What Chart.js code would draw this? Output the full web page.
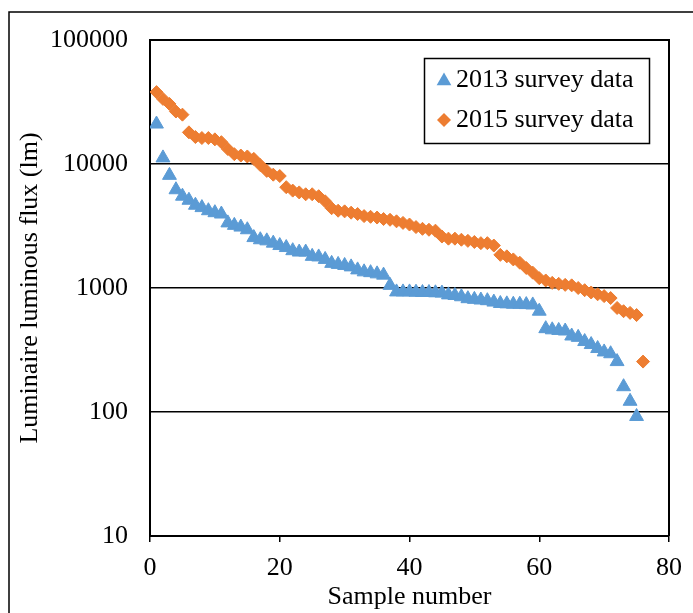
<!DOCTYPE html>
<html><head><meta charset="utf-8">
<style>html,body{margin:0;padding:0;background:#fff;}#wrap{width:693px;height:613px;}</style>
<script src="https://cdn.jsdelivr.net/npm/chart.js@4.4.1/dist/chart.umd.min.js"></script>
</head><body><div id="wrap"><canvas id="c" width="693" height="613"></canvas></div>
<script>
const seriesNames = ['2013 survey data', '2015 survey data'];
const samples2013 = [1,2,3,4,5,6,7,8,9,10,11,12,13,14,15,16,17,18,19,20,21,22,23,24,25,26,27,28,29,30,31,32,33,34,35,36,37,38,39,40,41,42,43,44,45,46,47,48,49,50,51,52,53,54,55,56,57,58,59,60,61,62,63,64,65,66,67,68,69,70,71,72,73,74,75];
const flux2013 = [21000,11200,8100,6200,5500,5100,4650,4450,4200,4050,3950,3350,3200,3100,2950,2550,2450,2400,2300,2200,2120,2000,1950,1950,1800,1780,1700,1580,1550,1520,1480,1400,1350,1330,1300,1270,1050,930,930,930,925,920,920,915,910,880,870,850,820,810,800,790,770,750,745,740,740,735,730,650,470,460,455,450,410,400,370,350,325,305,295,255,160,122,92];
const samples2015 = [1,2,3,4,5,6,7,8,9,10,11,12,13,14,15,16,17,18,19,20,21,22,23,24,25,26,27,28,29,30,31,32,33,34,35,36,37,38,39,40,41,42,43,44,45,46,47,48,49,50,51,52,53,54,55,56,57,58,59,60,61,62,63,64,65,66,67,68,69,70,71,72,73,74,75,76];
const flux2015 = [38000,33500,30500,26500,25000,18000,16500,16200,16200,15800,15000,13200,12000,11700,11500,11000,9800,8800,8200,8000,6500,6100,5900,5700,5700,5500,5000,4400,4200,4150,4050,3950,3800,3750,3700,3600,3550,3450,3350,3250,3100,3000,2950,2900,2600,2500,2500,2450,2400,2350,2300,2300,2200,1850,1800,1700,1600,1450,1330,1200,1150,1100,1080,1060,1050,1000,960,920,890,860,830,690,650,630,605,255];
const xTicks = [0, 20, 40, 60, 80];
const yTicks = [10, 100, 1000, 10000, 100000];

const FONT = "'Liberation Serif', 'Times New Roman', serif";
const BLUE = '#5B9BD5', ORANGE = '#ED7D31';

const toPts = (xs, ys) => xs.map((x, i) => ({x: x, y: ys[i]}));

const framePlugin = {
  id: 'frame',
  beforeDraw(chart) {
    const ctx = chart.ctx;
    ctx.save();
    ctx.fillStyle = '#fff';
    ctx.fillRect(0, 0, chart.width, chart.height);
    ctx.strokeStyle = '#000';
    ctx.lineWidth = 1.5;
    ctx.beginPath();
    ctx.moveTo(9, chart.height);
    ctx.lineTo(9, 12);
    ctx.lineTo(chart.width, 12);
    ctx.stroke();
    ctx.restore();
  },
  afterDatasetsDraw(chart) {
    const ctx = chart.ctx, a = chart.chartArea;
    ctx.save();
    ctx.strokeStyle = '#000';
    ctx.lineWidth = 2;
    ctx.beginPath();
    ctx.moveTo(a.left, a.top);
    ctx.lineTo(a.right, a.top);
    ctx.lineTo(a.right, a.bottom);
    ctx.stroke();
    // legend
    const bx = 424, by = 58, bw = 225, bh = 85;
    ctx.fillStyle = '#fff';
    ctx.fillRect(bx, by, bw, bh);
    ctx.lineWidth = 1.5;
    ctx.strokeRect(bx + 0.5, by + 0.5, bw, bh);
    // triangle
    let cx = 444, cy = 81, r = 8.5;
    ctx.fillStyle = BLUE;
    ctx.beginPath();
    ctx.moveTo(cx, cy - r);
    ctx.lineTo(cx + r * 0.866, cy + r / 2);
    ctx.lineTo(cx - r * 0.866, cy + r / 2);
    ctx.closePath();
    ctx.fill();
    // diamond
    cx = 444; cy = 120; r = 7;
    ctx.fillStyle = ORANGE;
    ctx.beginPath();
    ctx.moveTo(cx, cy - r);
    ctx.lineTo(cx + r, cy);
    ctx.lineTo(cx, cy + r);
    ctx.lineTo(cx - r, cy);
    ctx.closePath();
    ctx.fill();
    ctx.fillStyle = '#000';
    ctx.font = '26px ' + FONT;
    ctx.textBaseline = 'middle';
    ctx.textAlign = 'left';
    ctx.fillText(seriesNames[0], 456, 80);
    ctx.fillText(seriesNames[1], 456, 120);
    ctx.restore();
  }
};

new Chart(document.getElementById('c'), {
  type: 'scatter',
  data: {
    datasets: [
      {label: seriesNames[0], data: toPts(samples2013, flux2013), pointStyle: 'triangle', pointRadius: 8, pointHoverRadius: 8,
       backgroundColor: BLUE, borderColor: BLUE, borderWidth: 1},
      {label: seriesNames[1], data: toPts(samples2015, flux2015), pointStyle: 'rectRot', pointRadius: 6.5, pointHoverRadius: 6.5,
       backgroundColor: ORANGE, borderColor: ORANGE, borderWidth: 1}
    ]
  },
  options: {
    responsive: false,
    animation: false,
    devicePixelRatio: 1,
    layout: {padding: {left: 0, top: 40, right: 19.5, bottom: 0}},
    plugins: {legend: {display: false}, tooltip: {enabled: false}},
    scales: {
      x: {
        type: 'linear', min: 0, max: 80,
        afterBuildTicks: s => { s.ticks = xTicks.map(v => ({value: v})); },
        afterFit: s => { s.height = 77; },
        ticks: {color: '#000', font: {family: FONT, size: 26}, padding: 11, maxRotation: 0},
        grid: {drawOnChartArea: false, drawTicks: true, tickLength: 6, color: '#000', lineWidth: 1.5},
        border: {display: true, color: '#000', width: 2},
        title: {display: true, text: 'Sample number', color: '#000', font: {family: FONT, size: 26}, padding: {top: 0, bottom: 0}}
      },
      y: {
        type: 'logarithmic', min: 10, max: 100000,
        afterBuildTicks: s => { s.ticks = yTicks.map(v => ({value: v})); },
        afterFit: s => { s.width = 150; },
        ticks: {color: '#000', font: {family: FONT, size: 26}, padding: 22, callback: v => String(v)},
        grid: {color: '#000', lineWidth: 1.5, drawTicks: false},
        border: {display: true, color: '#000', width: 2},
        title: {display: true, text: 'Luminaire luminous flux (lm)', color: '#000', font: {family: FONT, size: 26}, padding: {top: 15, bottom: 0}}
      }
    }
  },
  plugins: [framePlugin]
});
</script></body></html>
